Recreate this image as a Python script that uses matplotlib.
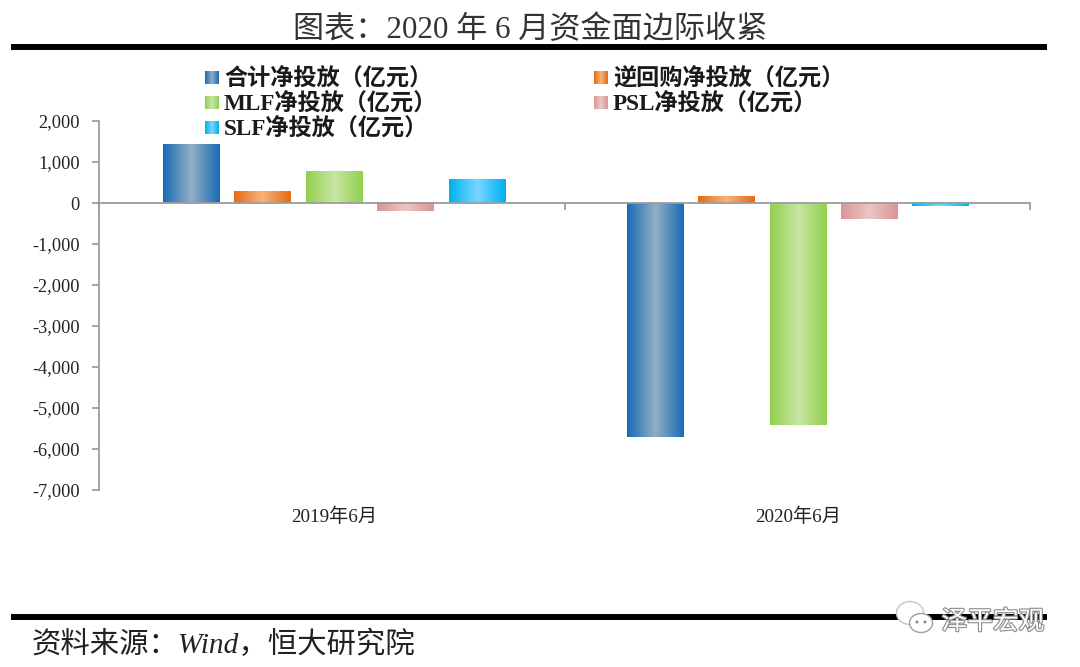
import numpy as np
import matplotlib
matplotlib.use('Agg')
import matplotlib.pyplot as plt
from matplotlib.colors import LinearSegmentedColormap
from matplotlib.lines import Line2D
from matplotlib.patches import Ellipse
import matplotlib.patheffects as pe

plt.rcParams['font.family'] = ['Liberation Serif', 'Noto Sans CJK SC', 'DejaVu Sans']

W, H = 1080, 667

periods = ['2019年6月', '2020年6月']
series_names = ['合计净投放（亿元）', '逆回购净投放（亿元）', 'MLF净投放（亿元）', 'PSL净投放（亿元）', 'SLF净投放（亿元）']
total = [1425, -5700]
repo = [285, 155]
mlf = [765, -5410]
psl = [-200, -385]
slf = [585, -85]
series_values = [total, repo, mlf, psl, slf]

edge_colors = ['#1a6bb8', '#e46c16', '#92d050', '#d99694', '#00b0f0']
mid_colors = ['#93aec4', '#f9b37a', '#c8e6a4', '#ebc6c5', '#78d8ff']

yticks = [2000, 1000, 0, -1000, -2000, -3000, -4000, -5000, -6000, -7000]
ytick_labels = ['2,000', '1,000', '0', '-1,000', '-2,000', '-3,000', '-4,000', '-5,000', '-6,000', '-7,000']

grey = '#9c9c9c'


def px_x(x):
    return x / W


def px_y(y):
    return 1 - y / H


def gradient(edge, mid):
    cmap = LinearSegmentedColormap.from_list('g', [edge, mid, edge])
    return cmap(np.linspace(0, 1, 64)).reshape(1, 64, 4)


fig = plt.figure(figsize=(W / 100, H / 100), dpi=100, facecolor='white')
ax = fig.add_axes([px_x(99), px_y(490), px_x(1030 - 99), px_y(121) - px_y(490)])

width = 0.1215
step = 0.1533
x = np.arange(len(periods)) + np.array([0.005, 0.0015])
for i, vals in enumerate(series_values):
    bars = ax.bar(x + (i - 2) * step, vals, width, color=edge_colors[i], zorder=1)
    for b in bars:
        x0, y0 = b.get_x(), b.get_y()
        ax.imshow(gradient(edge_colors[i], mid_colors[i]), aspect='auto', zorder=1.5,
                  extent=[x0, x0 + b.get_width(), y0, y0 + b.get_height()])

ax.set_xlim(-0.5, 1.5)
ax.set_ylim(-7000, 2000)

for s in ['top', 'right']:
    ax.spines[s].set_visible(False)
ax.spines['bottom'].set_position(('data', 0))
for s in ['left', 'bottom']:
    ax.spines[s].set_color(grey)
    ax.spines[s].set_linewidth(1.3)

ax.set_yticks(yticks)
ax.set_yticklabels(ytick_labels, fontsize=13.2, color='#222222')
ax.set_xticks([-0.5, 0.5, 1.5])
ax.set_xticklabels([])
ax.tick_params(axis='both', direction='out', color=grey, width=1.3, length=5)
ax.tick_params(axis='y', pad=9)

for xi, name in zip(x, periods):
    ax.text(xi, -7660, name, ha='center', va='center', fontsize=13.8, color='#222222')

# title and the heavy rules
fig.text(px_x(530), px_y(30), '图表：2020 年 6 月资金面边际收紧', ha='center', va='center',
         fontsize=22.4, color='#333333')
fig.add_artist(Line2D([px_x(11), px_x(1047)], [px_y(46.5), px_y(46.5)], color='black', lw=4.3, solid_capstyle='butt'))
fig.add_artist(Line2D([px_x(11), px_x(1047)], [px_y(617), px_y(617)], color='black', lw=4.3, solid_capstyle='butt'))
fig.text(px_x(32), px_y(645), '资料来源：Wind，恒大研究院', ha='left', va='center',
         fontsize=21.2, style='italic', color='#222222')

# legend, swatches carry the same gradient as the bars
legend_pos = [(205, 77), (594, 77), (205, 102), (594, 102), (205, 127)]
for i, (name, (lx, ly)) in enumerate(zip(series_names, legend_pos)):
    sw = fig.add_axes([px_x(lx), px_y(ly + 7), 13 / W, 13 / H])
    sw.imshow(gradient(edge_colors[i], mid_colors[i]), aspect='auto')
    sw.axis('off')
    fig.text(px_x(lx + 19), px_y(ly + 1.5), name, ha='left', va='center', fontsize=16.7,
             weight='bold', color='#1a1a1a')

# watermark over the lower rule
stroke = [pe.withStroke(linewidth=1.6, foreground='#8a8a8a')]
fig.text(px_x(993), px_y(622), '泽平宏观', ha='center', va='center', fontsize=18.5, color='white',
         style='italic', path_effects=stroke, zorder=5)
icon = fig.add_axes([px_x(890), px_y(636), 48 / W, 36 / H], zorder=5)
icon.set_xlim(0, 48)
icon.set_ylim(36, 0)
icon.axis('off')
icon.add_patch(Ellipse((20, 13), 27, 23, fc='white', ec='#c4c4c4', lw=1))
icon.add_patch(Ellipse((31, 23), 23, 19, fc='white', ec='#a0a0a0', lw=1))
for ex, ey in [(27, 22), (35, 22)]:
    icon.add_patch(Ellipse((ex, ey), 3, 3, fc='#888888', ec='none'))

fig.savefig('out.png', dpi=100, facecolor='white')
